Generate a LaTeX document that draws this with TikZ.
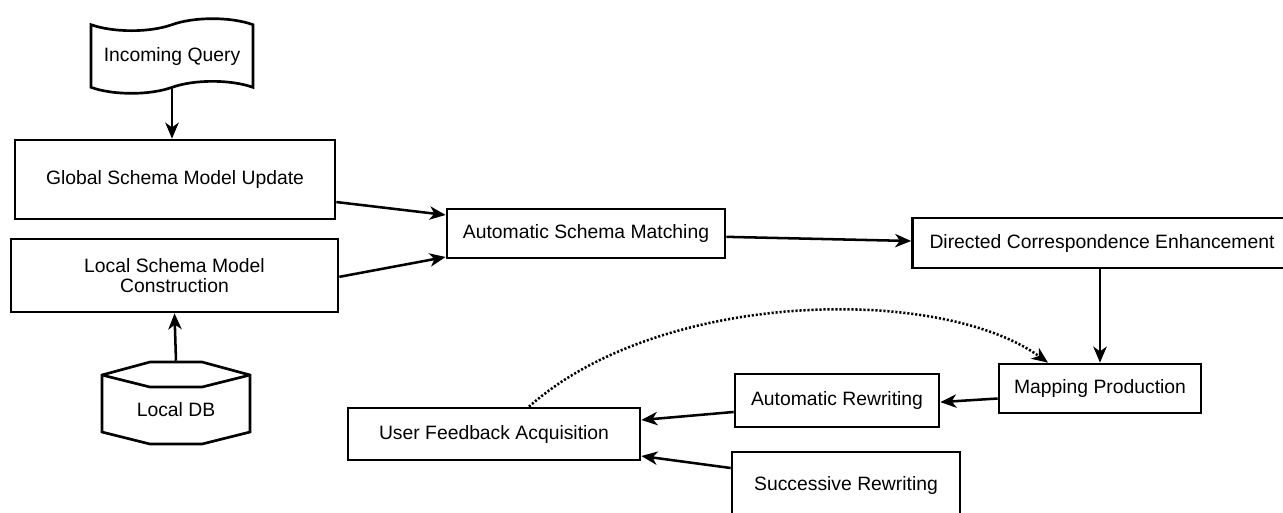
\documentclass[tikz,border=0pt]{standalone}
\usepackage{fontspec}
\setmainfont{Liberation Sans}
\usetikzlibrary{arrows.meta,shapes.symbols}

\begin{document}
\begin{tikzpicture}
    [
      x=0.75pt,y=-0.75pt,
      font=\fontsize{14.5}{15}\selectfont,
      stage/.style={draw=black,line width=2pt,rectangle,align=center,
        inner sep=0pt},
      flow/.style={-{Stealth[length=12pt,width=10pt,inset=3.5pt]},line width=1.9pt,draw=black},
      feedback/.style={flow,dash pattern=on 1.6pt off 1.4pt}
    ]

    \useasboundingbox (0,0) rectangle (1283,512);

    \node at (172,56) [stage,tape,tape bend height=9pt,minimum width=121.5pt,
      minimum height=56pt] (query) {Incoming Query};
    \node at (175,179.5) [stage,minimum width=240pt,minimum height=59.25pt] (global) {Global Schema Model Update};
    \node at (174.5,275.5) [stage,minimum width=245.25pt,minimum height=54.75pt] (local) {Local Schema Model\\Construction};
    \node at (176,410) [minimum width=111pt,minimum height=73.5pt,inner sep=0pt] (db) {Local DB};
    \node at (586,233.5) [stage,minimum width=208.5pt,minimum height=36.75pt] (matching) {Automatic Schema Matching};
    \node at (1102,243) [stage,minimum width=284.25pt,minimum height=37.5pt] (enhance) {Directed Correspondence Enhancement};
    \node at (1100,388.5) [stage,minimum width=151.5pt,minimum height=36.75pt] (mapping) {Mapping Production};
    \node at (837,400.5) [stage,minimum width=153pt,minimum height=39.75pt] (autorw) {Automatic Rewriting};
    \node at (494,434) [stage,minimum width=219pt,minimum height=39pt] (feedback) {User Feedback Acquisition};
    \node at (846,485) [stage,minimum width=171pt,minimum height=49.5pt] (succrw) {Successive Rewriting};

    % database outline
    \draw [line width=2pt] (102,375) -- (150,362) -- (202,362) -- (250,375)
      -- (250,432) -- (202,444) -- (150,444) -- (102,432) -- cycle;
    \draw [line width=2pt] (102,375) -- (150,387) -- (202,387) -- (250,375);

    \draw [flow] (query.south) -- (query.south |- global.north);
    \draw [flow] (db.north) -- (local.south);
    \draw [flow] ([yshift=-16.9pt]global.east) -- ([yshift=13.9pt]matching.west);
    \draw [flow] ([yshift=-1pt]local.east) -- ([yshift=-17.6pt]matching.west);
    \draw [flow] ([yshift=-2.5pt]matching.east) -- ([yshift=1.5pt]enhance.west);
    \draw [flow] (enhance.south -| mapping.north) -- (mapping.north);
    \draw [flow] ([yshift=-7.5pt]mapping.west) -- ([yshift=-1.2pt]autorw.east);
    \draw [flow] ([yshift=-8.6pt]autorw.west) -- ([yshift=10.5pt]feedback.east);
    \draw [flow] ([yshift=12.75pt]succrw.west) -- ([yshift=-16.5pt]feedback.east);

    \draw [feedback] ([xshift=26.25pt]feedback.north) .. controls +(131,-117)
      and +(-108,-78) .. ([xshift=-39pt]mapping.north);
  \end{tikzpicture}
\end{document}
